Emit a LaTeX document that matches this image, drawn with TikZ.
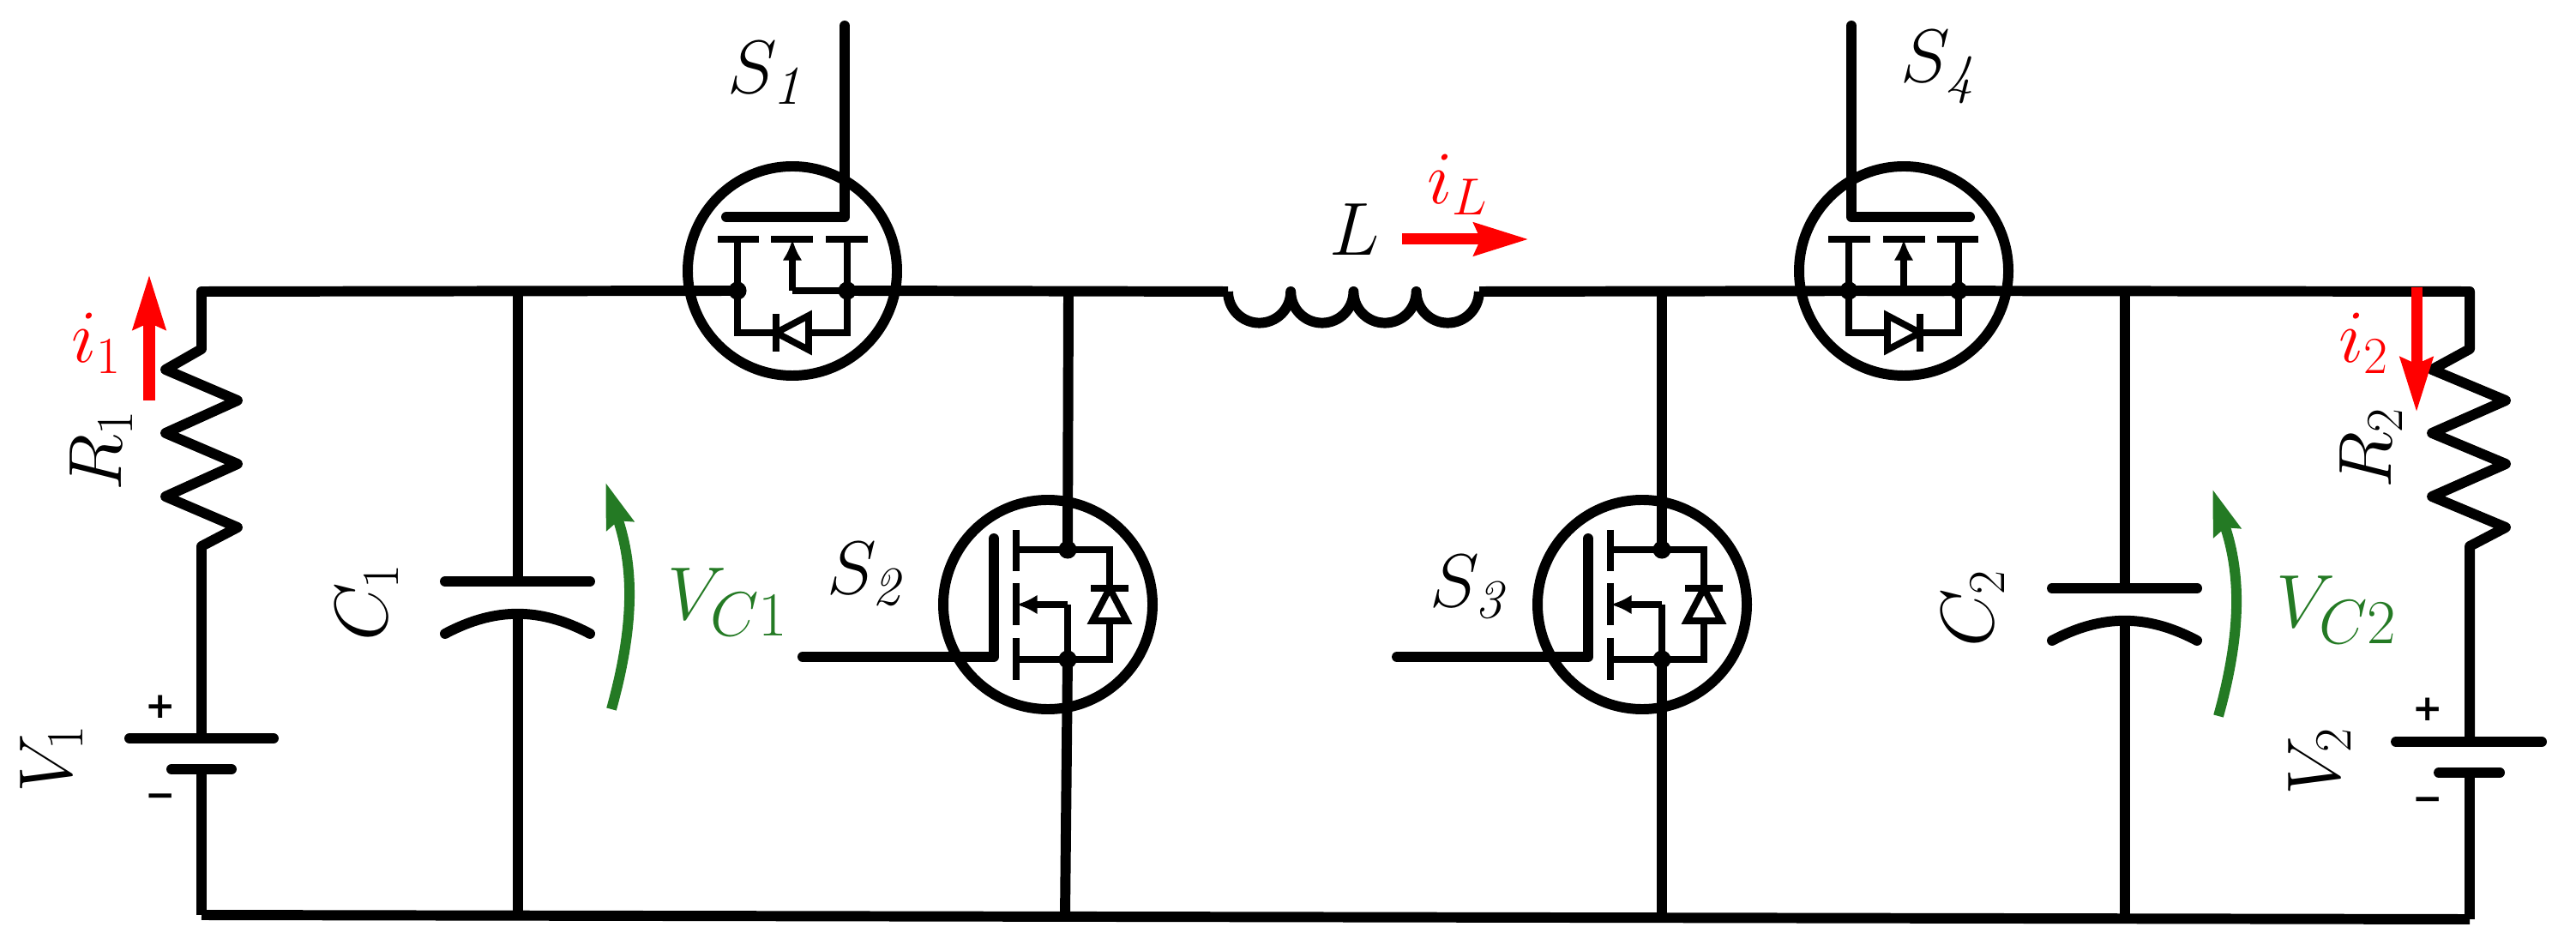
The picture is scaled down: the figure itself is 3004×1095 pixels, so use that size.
\documentclass[tikz,border=0pt]{standalone}
\usepackage{fontspec}
\usetikzlibrary{arrows.meta}
\newfontfamily\signfont{DejaVu Sans}
\definecolor{vcgreen}{RGB}{36,122,36}

\begin{document}
\begin{tikzpicture}[x=0.01cm, y=-0.01cm,
  wire/.style = {draw, line width=3.4pt, line join=round},
  thinwire/.style = {draw, line width=2.2pt},
  plate/.style = {wire, line cap=round},
  dot/.style = {circle, fill, inner sep=0pt, minimum size=6pt},
  lab/.style = {inner sep=0pt, font=\fontsize{26}{30}\selectfont},
  vlab/.style = {inner sep=0pt, text=vcgreen, font=\fontsize{28}{32}\selectfont},
  sgn/.style = {inner sep=0pt, font=\fontsize{12}{14}\selectfont\signfont\bfseries},
  current/.style = {draw=red, line width=3.7pt, -{Stealth[length=18pt, width=10.5pt, inset=2pt]}},
  volt/.style = {draw=vcgreen, line width=3.4pt, -{Stealth[length=15pt, width=9pt, inset=1.5pt]}},
  mosfet/.pic = {
    \draw[wire] (0,0) circle (122);
    \draw[plate] (-77,-63) -- (61,-63) -- (61,-286);
    \coordinate (-dl) at (-64,23);
    \coordinate (-dr) at (64,23);
    \node[dot] (-dotl) at (-64,23) {};
    \node[dot] (-dotr) at (64,23) {};
    % channel
    \draw[thinwire] (-87,-37) -- (-39,-37);
    \draw[thinwire] (-25,-37) -- (24,-37);
    \draw[thinwire] (39,-37) -- (88,-37);
    \draw[thinwire] (-64,-37) -- (-64,72) -- (-19,72);
    \draw[thinwire] (64,-37) -- (64,72) -- (19,72);
    \draw[thinwire, -{Latex[length=7pt, width=6.5pt]}] (0,23) -- (0,-37);
    \draw[thinwire] (0,23) -- (64,23);
    % body diode
    \draw[thinwire, line join=miter] (19,52) -- (19,92) -- (-19,72) -- cycle;
    \draw[thinwire] (-19,50) -- (-19,94);
  }]
\useasboundingbox (0,0) rectangle (3004,1095);

% corners and tees
\coordinate (tl) at (235,340);
\coordinate (bl) at (235,1067);
\coordinate (tr) at (2880,340);
\coordinate (br) at (2880,1072);
\coordinate (ca) at (604,340);
\coordinate (cb) at (2478,340);
\coordinate (ma) at (1246,340);
\coordinate (mb) at (1938,340);
\coordinate (mab) at (1242,1068);
\coordinate (mbb) at (1938,1070);
\coordinate (cab) at (604,1068);
\coordinate (cbb) at (2478,1071);
\coordinate (la) at (1432,340);
\coordinate (lb) at (1725,340);

\pic (sa) at (924,316) {mosfet};
\pic[xscale=-1] (sd) at (2220,316) {mosfet};
\pic[rotate=90,xscale=-1] (sb) at (1222,705) {mosfet};
\pic[rotate=90,xscale=-1] (sc) at (1915,705) {mosfet};

% left branch
\coordinate (ra) at (235,407);
\coordinate (rb) at (235,637);
\coordinate (va) at (235,861);
\coordinate (vb) at (235,897);
\draw[wire] (bl) -- (vb);
\draw[wire] (va) -- (rb) -- (277,615) -- (193,579) -- (277,541) -- (193,505) -- (277,467) -- (193,431) -- (ra) -- (tl) -- (sa-dl);
\draw[plate] (151,861) -- (319,861);
\draw[plate] (200,897) -- (270,897);

% right branch
\coordinate (rc) at (2880,407);
\coordinate (rd) at (2880,637);
\coordinate (vc) at (2880,865);
\coordinate (vd) at (2880,901);
\draw[wire] (br) -- (vd);
\draw[wire] (vc) -- (rd) -- (2922,615) -- (2836,579) -- (2922,541) -- (2836,505) -- (2922,467) -- (2836,431) -- (rc) -- (tr) -- (sd-dr);
\draw[plate] (2794,865) -- (2964,865);
\draw[plate] (2844,901) -- (2915,901);

% rails and legs
\draw[wire] (bl) -- (br);
\draw[wire] (sa-dr) -- (la);
\draw[wire] (lb) -- (sd-dl);
\draw[wire] (la) arc[start angle=180, end angle=0, radius=36.6]
  arc[start angle=180, end angle=0, radius=36.6]
  arc[start angle=180, end angle=0, radius=36.6]
  arc[start angle=180, end angle=0, radius=36.6];
\draw[wire] (ma) -- (sb-dl);
\draw[wire] (sb-dr) -- (mab);
\draw[wire] (mb) -- (sc-dl);
\draw[wire] (sc-dr) -- (mbb);

% capacitors
\draw[wire] (ca) -- (604,678);
\draw[wire] (604,715) -- (cab);
\draw[wire] (cb) -- (2478,686);
\draw[wire] (2478,722) -- (cbb);
\draw[plate] (519,678) -- (688,678);
\draw[plate] (519,739) to[bend left=28] (688,739);
\draw[plate] (2393,686) -- (2562,686);
\draw[plate] (2393,747) to[bend left=28] (2562,747);

% labels
\node[lab] (ls1) at (892,85) {$S_{\mathit 1}$};
\node[lab] (ls4) at (2260,78) {$S_{\mathit 4}$};
\node[lab] (ls2) at (1008,670) {$S_{\mathit 2}$};
\node[lab] (ls3) at (1711,685) {$S_{\mathit 3}$};
\node[lab] (ll) at (1580,268) {$L$};
\node[lab, rotate=90] (lr1) at (118,525) {$R_1$};
\node[lab, rotate=90] (lr2) at (2765,522) {$R_2$};
\node[lab, rotate=90] (lv1) at (60,885) {$V_1$};
\node[lab, rotate=90] (lv2) at (2705,888) {$V_2$};
\node[lab, rotate=90] (lc1) at (428,702) {$C_1$};
\node[lab, rotate=90] (lc2) at (2301,709) {$C_2$};
\node[sgn] (pa) at (187,824) {+};
\node[sgn] (na) at (187,934) {−};
\node[sgn] (pb) at (2831,827) {+};
\node[sgn] (nb) at (2831,938) {−};

% currents
\node[lab, text=red] (li1) at (113,400) {$i_1$};
\node[lab, text=red] (li2) at (2757,400) {$i_2$};
\node[lab, text=red] (lil) at (1700,215) {$i_L$};
\coordinate (ia) at (174,467);
\coordinate (ib) at (174,320);
\coordinate (ic) at (2818,335);
\coordinate (id) at (2818,481);
\coordinate (ie) at (1635,279);
\coordinate (if) at (1783,279);
\draw[current] (ia) -- (ib);
\draw[current] (ic) -- (id);
\draw[current] (ie) -- (if);

% capacitor voltages
\node[vlab] (lvc1) at (849,702) {$V_{C1}$};
\node[vlab] (lvc2) at (2725,711) {$V_{C2}$};
\coordinate (vca) at (713,827);
\coordinate (vcb) at (706,562);
\coordinate (vcc) at (2587,835);
\coordinate (vcd) at (2580,570);
\draw[volt] (vca) to[bend right=17] (vcb);
\draw[volt] (vcc) to[bend right=17] (vcd);
\end{tikzpicture}
\end{document}
